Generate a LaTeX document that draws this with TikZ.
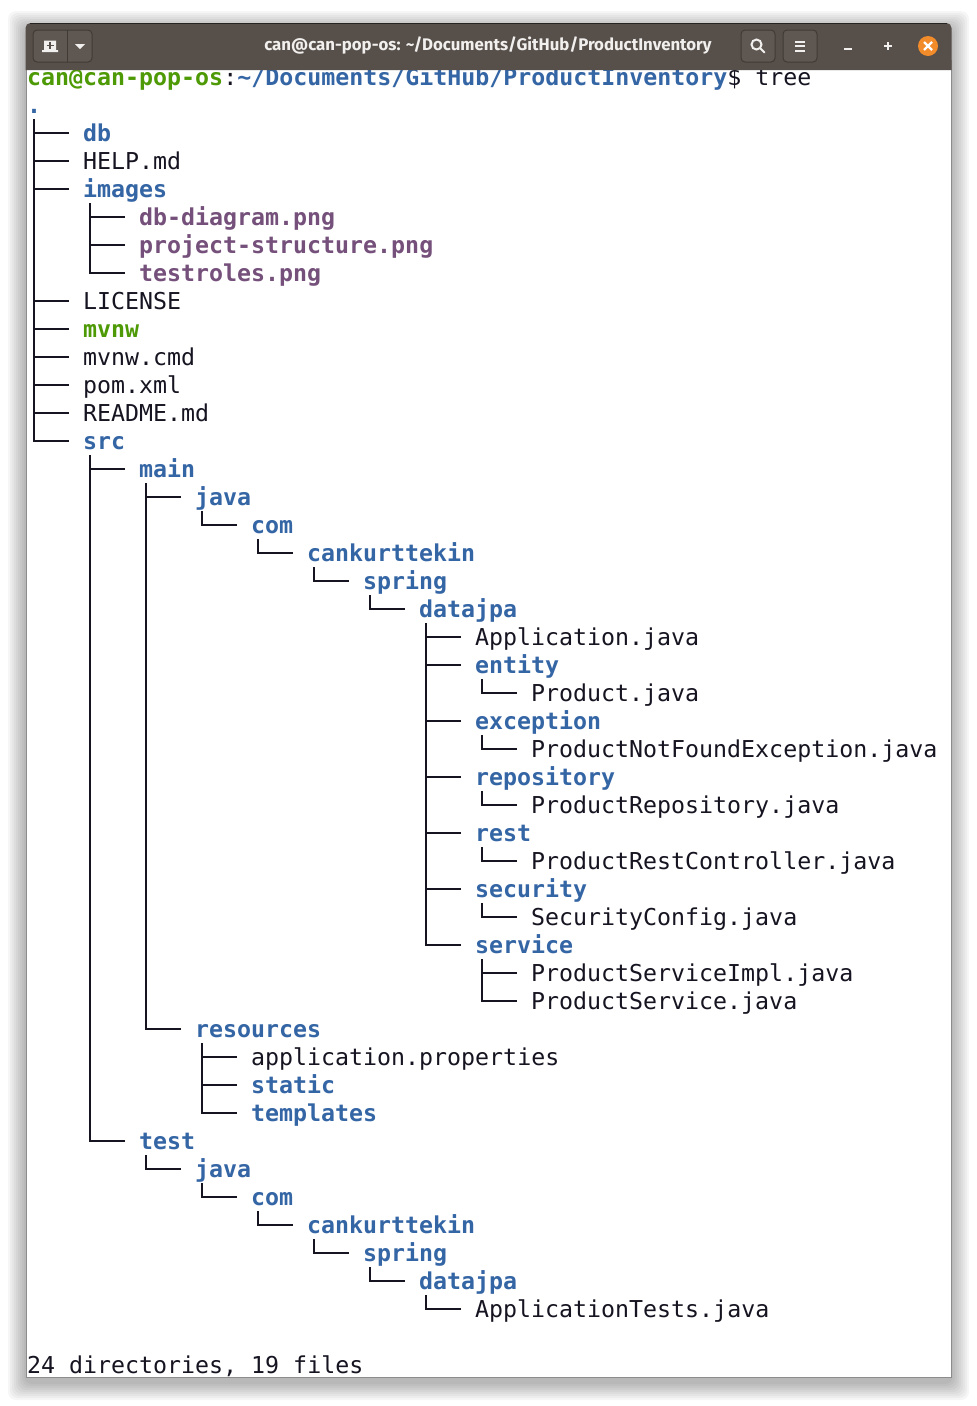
\documentclass[tikz,border=0pt]{standalone}
\usepackage{fontspec}
\setmonofont{DejaVu Sans Mono}
\newfontfamily\titlefont{Fira Sans}
\definecolor{termfg}{HTML}{171421}
\definecolor{termblue}{HTML}{3465A4}
\definecolor{termgreen}{HTML}{4E9A06}
\definecolor{termpurple}{HTML}{75507B}
\definecolor{barfill}{HTML}{574F4A}
\definecolor{btnfill}{HTML}{5F5751}
\definecolor{btnline}{HTML}{403A36}
\definecolor{iconfg}{HTML}{F2F0EE}
\definecolor{closeor}{HTML}{F28B2A}
\definecolor{winedge}{HTML}{8C8C8C}
\tikzset{
  x=1pt,y=-1pt,
  termtext/.style={anchor=west,inner xsep=0pt,inner ysep=0pt,text height=22pt,text depth=6pt,
    font=\fontsize{23.26}{28}\selectfont\ttfamily,text=termfg},
  plain/.style={termtext},
  dir/.style={termtext,text=termblue,font=\fontsize{23.26}{28}\selectfont\ttfamily\bfseries},
  exe/.style={termtext,text=termgreen,font=\fontsize{23.26}{28}\selectfont\ttfamily\bfseries},
  img/.style={termtext,text=termpurple,font=\fontsize{23.26}{28}\selectfont\ttfamily\bfseries},
  treeline/.style={draw=termfg,line width=1.7pt,line cap=butt},
  btn/.style={draw=btnline,fill=btnfill,line width=1pt,rounded corners=4pt},
  iconline/.style={draw=iconfg,line width=2pt},
}
\newcommand{\ent}[5]{\node[#4] (#1) at ({27+14*#2},{77+28*#3}) {#5};}
\begin{document}
\begin{tikzpicture}
\useasboundingbox (0,0) rectangle (977,1406);
% window shadow
\foreach \g in {18,16,...,2}{
  \fill[black,opacity=0.035,rounded corners=8pt] ({26-\g},{24-\g+5}) rectangle ({951+\g},{1377+\g+5});
}
% window body
\fill[white] (26,60) rectangle (951,1377);
% tree entries
\ent{prompt}{0}{0}{plain}{{\color{termgreen}\bfseries can@can-pop-os}:{\color{termblue}\bfseries \textasciitilde/Documents/GitHub/ProductInventory}\$ tree}
\ent{root}{0}{1}{dir}{.}
\ent{db}{4}{2}{dir}{db}
\ent{help}{4}{3}{plain}{HELP.md}
\ent{images}{4}{4}{dir}{images}
\ent{dbdiagram}{8}{5}{img}{db-diagram.png}
\ent{projstruct}{8}{6}{img}{project-structure.png}
\ent{testroles}{8}{7}{img}{testroles.png}
\ent{license}{4}{8}{plain}{LICENSE}
\ent{mvnw}{4}{9}{exe}{mvnw}
\ent{mvnwcmd}{4}{10}{plain}{mvnw.cmd}
\ent{pom}{4}{11}{plain}{pom.xml}
\ent{readme}{4}{12}{plain}{README.md}
\ent{src}{4}{13}{dir}{src}
\ent{main}{8}{14}{dir}{main}
\ent{mjava}{12}{15}{dir}{java}
\ent{mcom}{16}{16}{dir}{com}
\ent{mcan}{20}{17}{dir}{cankurttekin}
\ent{mspring}{24}{18}{dir}{spring}
\ent{mdatajpa}{28}{19}{dir}{datajpa}
\ent{app}{32}{20}{plain}{Application.java}
\ent{entity}{32}{21}{dir}{entity}
\ent{product}{36}{22}{plain}{Product.java}
\ent{exception}{32}{23}{dir}{exception}
\ent{pnfe}{36}{24}{plain}{ProductNotFoundException.java}
\ent{repository}{32}{25}{dir}{repository}
\ent{prepo}{36}{26}{plain}{ProductRepository.java}
\ent{rest}{32}{27}{dir}{rest}
\ent{prest}{36}{28}{plain}{ProductRestController.java}
\ent{security}{32}{29}{dir}{security}
\ent{secconf}{36}{30}{plain}{SecurityConfig.java}
\ent{service}{32}{31}{dir}{service}
\ent{psimpl}{36}{32}{plain}{ProductServiceImpl.java}
\ent{pserv}{36}{33}{plain}{ProductService.java}
\ent{resources}{12}{34}{dir}{resources}
\ent{appprops}{16}{35}{plain}{application.properties}
\ent{static}{16}{36}{dir}{static}
\ent{templates}{16}{37}{dir}{templates}
\ent{test}{8}{38}{dir}{test}
\ent{tjava}{12}{39}{dir}{java}
\ent{tcom}{16}{40}{dir}{com}
\ent{tcan}{20}{41}{dir}{cankurttekin}
\ent{tspring}{24}{42}{dir}{spring}
\ent{tdatajpa}{28}{43}{dir}{datajpa}
\ent{apptests}{32}{44}{plain}{ApplicationTests.java}
\ent{summary}{0}{46}{plain}{24 directories, 19 files}
% connectors
\foreach \p/\c in {root/db,root/help,root/images,images/dbdiagram,images/projstruct,images/testroles,
  root/license,root/mvnw,root/mvnwcmd,root/pom,root/readme,root/src,src/main,main/mjava,mjava/mcom,
  mcom/mcan,mcan/mspring,mspring/mdatajpa,mdatajpa/app,mdatajpa/entity,entity/product,mdatajpa/exception,
  exception/pnfe,mdatajpa/repository,repository/prepo,mdatajpa/rest,rest/prest,mdatajpa/security,
  security/secconf,mdatajpa/service,service/psimpl,service/pserv,main/resources,resources/appprops,
  resources/static,resources/templates,src/test,test/tjava,tjava/tcom,tcom/tcan,tcan/tspring,
  tspring/tdatajpa,tdatajpa/apptests}{
  \draw[treeline] ([xshift=7pt]\p.south west) |- ([xshift=-14pt]\c.west);
}
% window edge
\draw[winedge,line width=1pt] (26,60) -- (26,1377.5) -- (951,1377.5) -- (951,60);
% title bar
\fill[barfill,rounded corners=5pt] (25.5,40) -- (25.5,23) -- (951.5,23) -- (951.5,40) [sharp corners] -- (951.5,70) -- (25.5,70) -- cycle;
\draw[black!55!barfill,line width=0.8pt] (30,23.3) -- (947,23.3);
% left button group
\draw[btn] (33,30) rectangle (92,62);
\draw[btnline,line width=1pt] (67.5,30) -- (67.5,62);
\fill[iconfg] (44,40.5) rectangle (56,50) (42,50) rectangle (58,52);
\draw[barfill,line width=1.6pt] (50,42) -- (50,49) (46.5,45.5) -- (53.5,45.5);
\fill[iconfg] (75,44) -- (85,44) -- (80,49) -- cycle;
% search and menu buttons
\draw[btn] (741,30) rectangle (775,62);
\draw[btn] (783,30) rectangle (817,62);
\draw[iconline] (756.5,44.5) circle (5pt);
\draw[iconline,line cap=round] (760.5,48.5) -- (764.5,52.5);
\draw[iconline] (795,41.5) -- (805,41.5) (795,46) -- (805,46) (795,50.5) -- (805,50.5);
% window controls
\draw[iconline] (844,49) -- (852,49);
\draw[iconline] (884,46) -- (892,46) (888,42) -- (888,50);
\fill[closeor] (928,46) circle (10pt);
\draw[draw=white,line width=2.2pt] (924,42) -- (932,50) (932,42) -- (924,50);
% title
\node[anchor=center,inner sep=0pt,text=iconfg,font=\titlefont\fontsize{16.8}{20}\selectfont\bfseries] (title) at (488,46) {can@can-pop-os: \textasciitilde/Documents/GitHub/ProductInventory};
\end{tikzpicture}
\end{document}
